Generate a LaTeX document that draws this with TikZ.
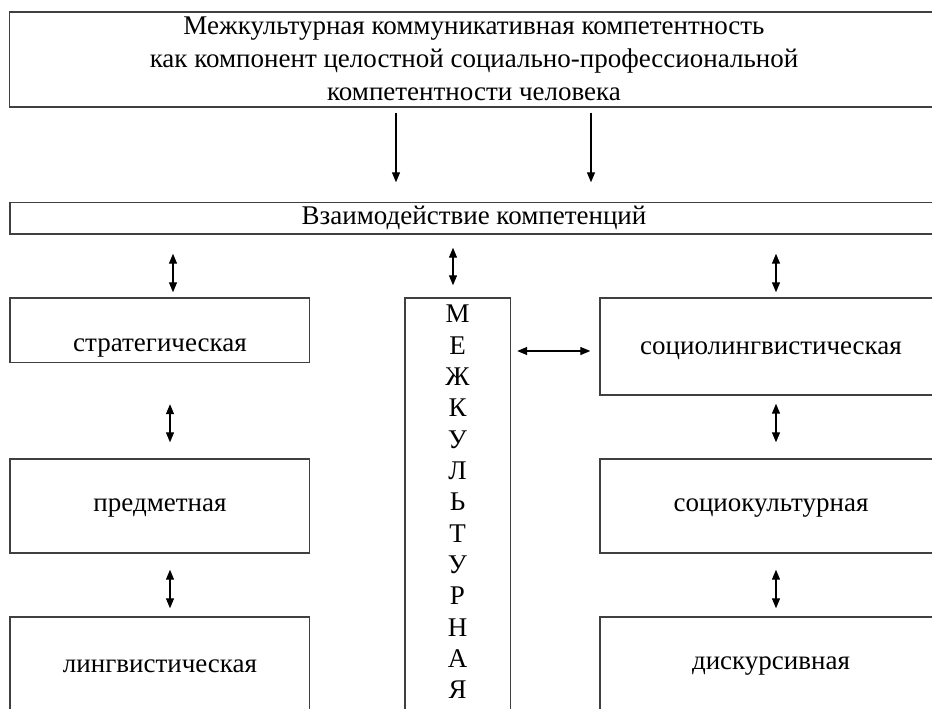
\documentclass[tikz,border=0pt]{standalone}
\usepackage{fontspec}
\setmainfont{Liberation Serif}
\usetikzlibrary{arrows.meta,calc}
\begin{document}
\begin{tikzpicture}[x=1pt,y=-1pt,
  box/.style={draw=black!75, line width=1.4pt, rectangle, inner sep=0pt},
  lbl/.style={font=\rmfamily\fontsize{27}{33}\selectfont, inner sep=0pt},
  arr/.style={line width=1.2pt, -{Triangle[length=10pt,width=8pt]}},
  darr/.style={line width=1.2pt, {Triangle[length=10pt,width=8pt]}-{Triangle[length=10pt,width=8pt]}}]

\useasboundingbox (0,0) rectangle (932,709);

% boxes
\node[box, minimum width=929pt, minimum height=95pt] (top) at (474,59.5) {};
\node[lbl, align=center] (topT) at (474,58.5) {Межкультурная коммуникативная компетентность\\как компонент целостной социально-профессиональной\\компетентности человека};

\node[box, minimum width=928pt, minimum height=31.5pt] (inter) at (474,218.25) {};
\node[lbl] (interT) at (474,218) {Взаимодействие компетенций};

\node[box, minimum width=299.5pt, minimum height=64.5pt] (strat) at (159.75,330.25) {};
\node[lbl] (stratT) at (160,348) {стратегическая};

\node[box, minimum width=299.5pt, minimum height=94pt] (pred) at (159.75,506) {};
\node[lbl] (predT) at (160,508) {предметная};

\node[box, minimum width=299.5pt, minimum height=94pt] (ling) at (159.75,664) {};
\node[lbl] (lingT) at (160,666) {лингвистическая};

\node[box, minimum width=105.5pt, minimum height=422pt] (mid) at (457.75,509) {};
\node[lbl, font=\rmfamily\fontsize{27}{31.33}\selectfont, align=center] (midT) at (457.5,502) {М\\Е\\Ж\\К\\У\\Л\\Ь\\Т\\У\\Р\\Н\\А\\Я};

\node[box, minimum width=342pt, minimum height=97pt] (soc) at (771,346.5) {};
\node[lbl] (socT) at (771,351) {социолингвистическая};

\node[box, minimum width=342pt, minimum height=94pt] (scult) at (771,506) {};
\node[lbl] (scultT) at (771,508) {социокультурная};

\node[box, minimum width=342pt, minimum height=94pt] (disk) at (771,664) {};
\node[lbl] (diskT) at (771,666) {дискурсивная};

% x references
\coordinate (xa) at (396,0);
\coordinate (xb) at (591,0);
\coordinate (xl1) at (173,0);
\coordinate (xl2) at (170,0);
\coordinate (xm) at (453,0);
\coordinate (xr) at (776,0);
\coordinate (yh) at (0,351);

% arrows
\draw[arr, shorten <=5pt, shorten >=19.5pt] (top.south -| xa) -- (inter.north -| xa);
\draw[arr, shorten <=5pt, shorten >=19.5pt] (top.south -| xb) -- (inter.north -| xb);

\draw[darr, shorten <=19pt, shorten >=5pt] (inter.south -| xl1) -- (strat.north -| xl1);
\draw[darr, shorten <=13pt, shorten >=12pt] (inter.south -| xm) -- (mid.north -| xm);
\draw[darr, shorten <=19pt, shorten >=5pt] (inter.south -| xr) -- (soc.north -| xr);

\draw[darr, shorten <=41pt, shorten >=16pt] (strat.south -| xl2) -- (pred.north -| xl2);
\draw[darr, shorten <=16pt, shorten >=8pt] (pred.south -| xl2) -- (ling.north -| xl2);

\draw[darr, shorten <=8pt, shorten >=16pt] (soc.south -| xr) -- (scult.north -| xr);
\draw[darr, shorten <=16pt, shorten >=8pt] (scult.south -| xr) -- (disk.north -| xr);

\draw[darr, shorten <=6pt, shorten >=9pt] (mid.east |- yh) -- (soc.west |- yh);
\end{tikzpicture}
\end{document}
